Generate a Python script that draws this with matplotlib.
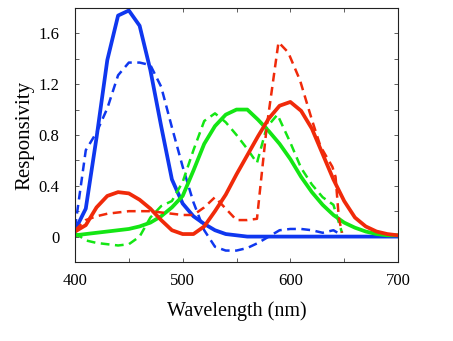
import matplotlib.pyplot as plt
import numpy as np

# wavelengths (nm) and responsivity values
wl_blue = [400, 410, 420, 430, 440, 450, 460, 470, 480, 490, 500, 510, 520, 530,
           540, 550, 560, 580, 600, 650, 700]
blue_solid = [0.05, 0.22, 0.78, 1.39, 1.74, 1.78, 1.66, 1.31, 0.87, 0.45, 0.26, 0.16,
              0.10, 0.05, 0.02, 0.01, 0.0, 0.0, 0.0, 0.0, 0.0]

wl_blue_d = [400, 410, 420, 430, 440, 450, 460, 470, 480, 490, 500, 510, 520, 530,
             540, 550, 560, 570, 580, 590, 600, 610, 620, 630, 640, 648]
blue_dashed = [0.07, 0.68, 0.82, 1.01, 1.27, 1.37, 1.37, 1.35, 1.18, 0.86, 0.55, 0.27,
               0.05, -0.08, -0.11, -0.11, -0.09, -0.05, 0.0, 0.05, 0.06, 0.06, 0.05,
               0.03, 0.05, 0.01]

wl_red = [400, 410, 420, 430, 440, 450, 460, 470, 480, 490, 500, 510, 520, 530, 540,
          550, 560, 570, 580, 590, 600, 610, 620, 630, 640, 650, 660, 670, 680, 690, 700]
red_solid = [0.04, 0.09, 0.23, 0.32, 0.35, 0.34, 0.29, 0.22, 0.13, 0.05, 0.02, 0.02,
             0.08, 0.2, 0.33, 0.49, 0.64, 0.79, 0.93, 1.03, 1.06, 0.99, 0.85, 0.65,
             0.45, 0.28, 0.15, 0.08, 0.04, 0.02, 0.01]

wl_red_d = [400, 410, 420, 430, 440, 450, 460, 470, 480, 490, 500, 510, 520, 530,
            540, 550, 560, 569, 578, 589, 598, 609, 620, 628, 639, 642, 645, 648]
red_dashed = [0.05, 0.13, 0.16, 0.18, 0.19, 0.20, 0.20, 0.20, 0.19, 0.18, 0.17, 0.17,
              0.23, 0.31, 0.22, 0.13, 0.13, 0.14, 0.86, 1.53, 1.45, 1.23, 0.92, 0.71,
              0.55, 0.47, 0.15, 0.03]

wl_green = wl_red
green_solid = [0.01, 0.02, 0.03, 0.04, 0.05, 0.06, 0.08, 0.11, 0.16, 0.23, 0.32, 0.52,
               0.73, 0.87, 0.96, 1.0, 1.0, 0.92, 0.83, 0.73, 0.61, 0.47, 0.35, 0.25,
               0.17, 0.11, 0.07, 0.04, 0.02, 0.01, 0.01]

wl_green_d = [400, 410, 420, 430, 440, 450, 460, 470, 480, 490, 500, 510, 520, 530,
              540, 550, 560, 569, 578, 588, 600, 610, 620, 630, 640, 648]
green_dashed = [0.03, -0.03, -0.05, -0.06, -0.07, -0.06, 0.0, 0.15, 0.24, 0.28, 0.43,
                0.68, 0.91, 0.97, 0.90, 0.80, 0.69, 0.58, 0.86, 0.96, 0.74, 0.54, 0.41,
                0.31, 0.25, 0.03]

BLUE = '#0f37ef'
RED = '#f02a0a'
GREEN = '#14e614'

plt.rcParams['font.family'] = ['Liberation Serif', 'DejaVu Serif']

fig = plt.figure(figsize=(4.53, 3.41), dpi=100)
ax = fig.add_axes([0.1656, 0.2317, 0.713, 0.745])

dash = (0, (3.5, 2.2))
ax.plot(wl_blue, blue_solid, color=BLUE, lw=2.7, solid_joinstyle='round')
ax.plot(wl_blue_d, blue_dashed, color=BLUE, lw=1.8, ls=dash)
ax.plot(wl_green, green_solid, color=GREEN, lw=2.7, solid_joinstyle='round')
ax.plot(wl_green_d, green_dashed, color=GREEN, lw=1.8, ls=dash)
ax.plot(wl_red, red_solid, color=RED, lw=2.7, solid_joinstyle='round')
ax.plot(wl_red_d, red_dashed, color=RED, lw=1.8, ls=dash)

ax.set_xlim(400, 700)
ax.set_ylim(-0.2, 1.8)

xt = np.arange(400, 701, 50)
ax.set_xticks(xt)
ax.set_xticklabels([str(v) if v % 100 == 0 else '' for v in xt])
yt = [0, 0.2, 0.4, 0.6, 0.8, 1.0, 1.2, 1.4, 1.6]
ax.set_yticks(yt)
ax.set_yticklabels(['0', '', '0.4', '', '0.8', '', '1.2', '', '1.6'])

ax.tick_params(direction='in', length=3, width=0.6, color='#444444',
               top=True, right=True, labelsize=12)
ax.tick_params(axis='x', pad=8)
ax.tick_params(axis='y', pad=11)
for s in ax.spines.values():
    s.set_linewidth(0.8)
    s.set_color('#222222')

ax.set_xlabel('Wavelength (nm)', fontsize=14.5, labelpad=9)
ax.set_ylabel('Responsivity', fontsize=15, labelpad=3)

fig.savefig('out.png', dpi=100)
